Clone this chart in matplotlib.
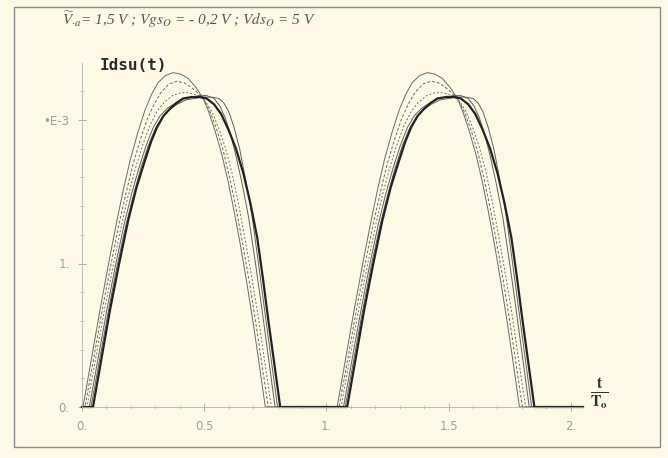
import matplotlib
matplotlib.use("Agg")
import matplotlib.pyplot as plt
from matplotlib.patches import Rectangle
from matplotlib.ticker import MultipleLocator, FixedLocator

plt.rcParams['mathtext.fontset'] = 'stix'

# ---- data (I in units of 1E-3, t in units of T0), first pulse ----
tA = [0.004, 0.04, 0.074, 0.11, 0.143, 0.17, 0.197, 0.228, 0.258, 0.285, 0.311, 0.342, 0.373, 0.404,
      0.434, 0.465, 0.496, 0.52, 0.545, 0.572, 0.598, 0.623, 0.648, 0.674, 0.700, 0.725, 0.750]
iA = [0.0, 0.35, 0.68, 1.01, 1.30, 1.52, 1.72, 1.91, 2.07, 2.18, 2.26, 2.31, 2.33, 2.32,
      2.29, 2.23, 2.15, 2.05, 1.92, 1.76, 1.57, 1.36, 1.13, 0.87, 0.59, 0.30, 0.0]
tB = [0.012, 0.048, 0.082, 0.118, 0.152, 0.180, 0.207, 0.238, 0.268, 0.295, 0.322, 0.355, 0.388, 0.417,
      0.445, 0.473, 0.500, 0.526, 0.552, 0.579, 0.605, 0.631, 0.656, 0.683, 0.710, 0.736, 0.762]
iB = [0.0, 0.34, 0.67, 0.99, 1.28, 1.49, 1.68, 1.86, 2.01, 2.11, 2.19, 2.25, 2.27, 2.26,
      2.23, 2.19, 2.14, 2.05, 1.93, 1.78, 1.59, 1.38, 1.15, 0.89, 0.60, 0.30, 0.0]
tC = [0.020, 0.056, 0.090, 0.127, 0.162, 0.190, 0.218, 0.249, 0.280, 0.307, 0.335, 0.370, 0.405, 0.432,
      0.458, 0.482, 0.505, 0.531, 0.558, 0.586, 0.614, 0.640, 0.666, 0.694, 0.722, 0.748, 0.775]
iC = [0.0, 0.34, 0.66, 0.98, 1.27, 1.48, 1.66, 1.83, 1.97, 2.06, 2.12, 2.17, 2.19, 2.19,
      2.18, 2.16, 2.13, 2.06, 1.95, 1.81, 1.63, 1.42, 1.18, 0.91, 0.62, 0.31, 0.0]
tD = [0.030, 0.066, 0.100, 0.136, 0.172, 0.202, 0.232, 0.262, 0.292, 0.320, 0.348, 0.384, 0.420, 0.450,
      0.480, 0.510, 0.540, 0.563, 0.585, 0.608, 0.630, 0.656, 0.682, 0.710, 0.738, 0.764, 0.790]
iD = [0.0, 0.34, 0.66, 0.98, 1.27, 1.48, 1.66, 1.82, 1.95, 2.03, 2.08, 2.12, 2.15, 2.16,
      2.17, 2.17, 2.15, 2.10, 2.02, 1.90, 1.75, 1.55, 1.32, 1.00, 0.66, 0.33, 0.0]
tE = [0.037, 0.072, 0.107, 0.143, 0.180, 0.211, 0.242, 0.271, 0.300, 0.328, 0.355, 0.390, 0.425, 0.460,
      0.495, 0.528, 0.560, 0.580, 0.600, 0.622, 0.645, 0.670, 0.695, 0.722, 0.750, 0.775, 0.800]
iE = [0.0, 0.33, 0.66, 0.98, 1.27, 1.48, 1.67, 1.82, 1.94, 2.02, 2.07, 2.11, 2.14, 2.15,
      2.16, 2.16, 2.15, 2.12, 2.06, 1.95, 1.80, 1.58, 1.34, 1.00, 0.64, 0.32, 0.0]
tF = [0.045, 0.080, 0.115, 0.152, 0.189, 0.223, 0.258, 0.283, 0.307, 0.334, 0.361, 0.388, 0.414, 0.449,
      0.484, 0.510, 0.540, 0.570, 0.600, 0.630, 0.660, 0.689, 0.717, 0.740, 0.762, 0.787, 0.811]
iF = [0.0, 0.34, 0.68, 1.00, 1.30, 1.53, 1.72, 1.85, 1.95, 2.03, 2.08, 2.12, 2.15, 2.16,
      2.16, 2.15, 2.11, 2.04, 1.93, 1.80, 1.63, 1.42, 1.18, 0.90, 0.61, 0.30, 0.0]
pulse2_offset = 1.04
t_end = 2.05

x_ticks = [0, 0.5, 1, 1.5, 2]
x_ticklabels = ["0.", "0.5", "1.", "1.5", "2."]
y_ticks = [0, 1, 2]
y_ticklabels = ["0.", "1.", "•E-3"]

curves = [
    (tA, iA, dict(color="#6a6a6a", lw=0.7, ls="-")),
    (tB, iB, dict(color="#6a6a6a", lw=0.7, ls=(0, (3, 2)))),
    (tC, iC, dict(color="#707070", lw=0.7, ls=(0, (2, 2)))),
    (tD, iD, dict(color="#606060", lw=0.7, ls="-")),
    (tE, iE, dict(color="#606060", lw=0.7, ls="-")),
    (tF, iF, dict(color="#222222", lw=1.6, ls="-")),
]

W, H = 668, 458
bg = "#fcfae6"
fig = plt.figure(figsize=(W / 100, H / 100), dpi=100, facecolor=bg)

# figure frame
fig.add_artist(Rectangle((14 / W, 1 - 447 / H), (660 - 14) / W, (447 - 7) / H,
                         transform=fig.transFigure, fill=False, ec="#8a8a8a", lw=1.0))

left, right, bottom, top = 82, 583, 407, 63
ax = fig.add_axes([left / W, 1 - bottom / H, (right - left) / W, (bottom - top) / H])
ax.set_facecolor(bg)
ax.set_xlim(0, t_end)
ax.set_ylim(0, (bottom - top) / 143.5)

for t, i, st in curves:
    xs = [0.0] + t + [tt + pulse2_offset for tt in t] + [t_end]
    ys = [0.0] + i + i + [0.0]
    ax.plot(xs, ys, clip_on=False, solid_joinstyle="round", **st)

for s in ["top", "right"]:
    ax.spines[s].set_visible(False)
for s in ["left", "bottom"]:
    ax.spines[s].set_color("#b0b0b0")
    ax.spines[s].set_linewidth(0.6)

ax.xaxis.set_major_locator(FixedLocator(x_ticks))
ax.set_xticklabels(x_ticklabels)
ax.xaxis.set_minor_locator(MultipleLocator(0.1))
ax.yaxis.set_major_locator(FixedLocator(y_ticks))
ax.set_yticklabels(y_ticklabels)
ax.yaxis.set_minor_locator(MultipleLocator(0.2))
ax.tick_params(which="major", direction="inout", length=6, width=0.6, color="#a0a0a0",
               labelsize=8.5, labelcolor="#a0a0a0", pad=6)
ax.tick_params(which="minor", direction="inout", length=3.5, width=0.5, color="#b0b0b0")
for lab in ax.get_xticklabels() + ax.get_yticklabels():
    lab.set_family("DejaVu Sans")

# labels
fig.text(100 / W, 1 - 70 / H, "Idsu(t)", fontfamily="DejaVu Sans Mono", fontweight="bold",
         fontsize=11.5, color="#2a2a2a", ha="left", va="baseline")
fig.text(590 / W, 1 - 393 / H, r"$\mathbf{\frac{t}{T_o}}$", fontsize=16, color="#333333",
         ha="left", va="center")
fig.text(62 / W, 1 - 25 / H,
         r"$\widetilde{V}_{\cdot a}$= 1,5 V ; $Vgs_O$ = - 0,2 V ; $Vds_O$ = 5 V",
         fontfamily="Liberation Serif", style="italic", fontsize=11, color="#555555",
         ha="left", va="baseline")

fig.savefig("out.png", dpi=100, facecolor=bg)
